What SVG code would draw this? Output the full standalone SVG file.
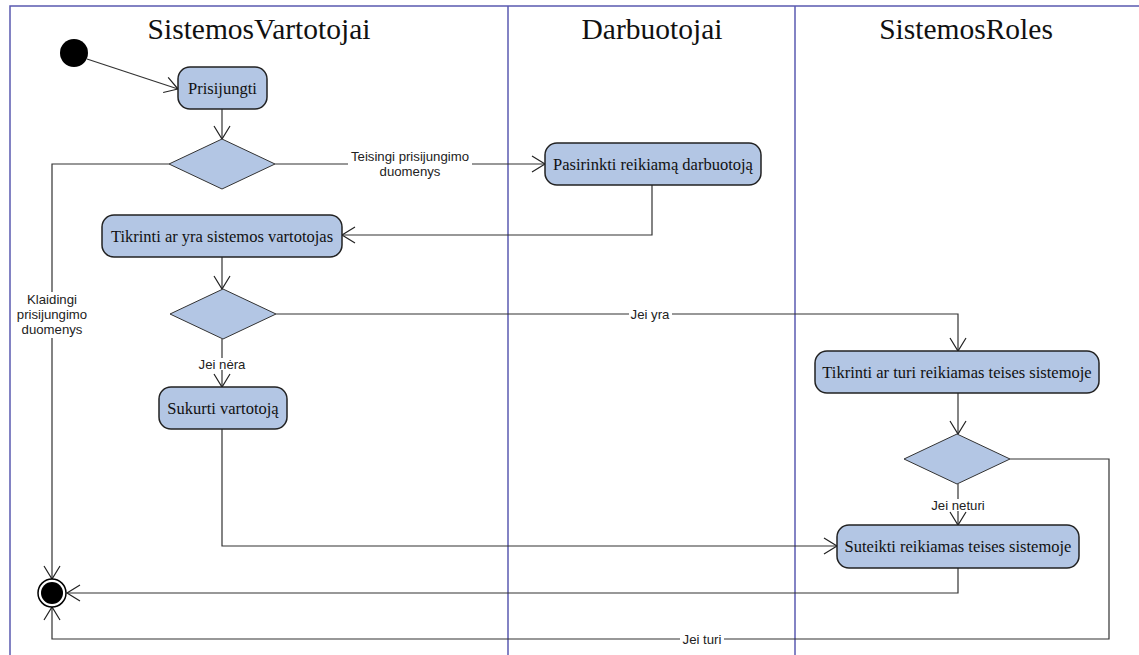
<svg xmlns="http://www.w3.org/2000/svg" width="1139" height="655" viewBox="0 0 1139 655">
  <style>
    .lane { stroke: #5a5ab0; stroke-width: 1.5; fill: none; }
    .title { font-family: "Liberation Serif", "Times New Roman", serif; font-size: 29.5px; fill: #111; text-anchor: middle; }
    .act { fill: #b3c6e4; stroke: #222; stroke-width: 1.5; }
    .dec { fill: #b3c6e4; stroke: #333; stroke-width: 1; }
    .nt { font-family: "Liberation Serif", "Times New Roman", serif; font-size: 16.5px; fill: #111; text-anchor: middle; }
    .edge { stroke: #333; stroke-width: 1.2; fill: none; marker-end: url(#open); }
    .lbl { font-family: "Liberation Sans", Arial, sans-serif; font-size: 13.2px; fill: #222; text-anchor: middle; }
    .lblbg { fill: #fff; }
  </style>
  <defs>
    <marker id="open" markerUnits="userSpaceOnUse" markerWidth="16" markerHeight="18" viewBox="-14 -9 16 18" refX="0" refY="0" orient="auto">
      <path d="M-13,-8 L0,0 L-13,8" fill="none" stroke="#222" stroke-width="1.2"/>
    </marker>
  </defs>

  <rect width="1139" height="655" fill="#fff"/>

  <!-- swimlanes -->
  <g id="lanes">
    <path class="lane" d="M10,655 V6 H1139"/>
    <line class="lane" x1="508" y1="6" x2="508" y2="655"/>
    <line class="lane" x1="795" y1="6" x2="795" y2="655"/>
    <text class="title" x="259" y="39">SistemosVartotojai</text>
    <text class="title" x="652" y="39">Darbuotojai</text>
    <text class="title" x="966" y="39">SistemosRoles</text>
  </g>

  <!-- connectors -->
  <g id="connectors">
    <line class="edge" x1="87" y1="59" x2="178" y2="89"/>
    <line class="edge" x1="222" y1="109" x2="222" y2="139"/>
    <path class="edge" d="M169,164 H52 V579"/>
    <path class="edge" d="M275,164 H545"/>
    <path class="edge" d="M652,185 V235 H342"/>
    <line class="edge" x1="222" y1="257" x2="222" y2="289"/>
    <path class="edge" d="M276,314 H958 V351"/>
    <line class="edge" x1="222" y1="339" x2="222" y2="387"/>
    <path class="edge" d="M222,429 V546 H837"/>
    <line class="edge" x1="958" y1="393" x2="958" y2="434"/>
    <line class="edge" x1="958" y1="484" x2="958" y2="525"/>
    <path class="edge" d="M958,568 V593 H67"/>
    <path class="edge" d="M1010,459 H1109 V639 H52 V607"/>

    <rect class="lblbg" x="348" y="149" width="124" height="30"/>
    <text class="lbl" x="410" y="161">Teisingi prisijungimo</text>
    <text class="lbl" x="410" y="176">duomenys</text>

    <rect class="lblbg" x="13" y="292" width="78" height="46"/>
    <text class="lbl" x="52" y="304">Klaidingi</text>
    <text class="lbl" x="52" y="319">prisijungimo</text>
    <text class="lbl" x="52" y="334">duomenys</text>

    <rect class="lblbg" x="629" y="308" width="43" height="12"/>
    <text class="lbl" x="650" y="319">Jei yra</text>

    <rect class="lblbg" x="196" y="358" width="52" height="12"/>
    <text class="lbl" x="222" y="369">Jei nėra</text>

    <rect class="lblbg" x="925" y="499" width="66" height="12"/>
    <text class="lbl" x="958" y="510">Jei neturi</text>

    <rect class="lblbg" x="680" y="633" width="44" height="12"/>
    <text class="lbl" x="702" y="644">Jei turi</text>
  </g>

  <!-- nodes -->
  <g id="start">
    <circle cx="74" cy="53" r="14" fill="#000"/>
  </g>

  <g id="prisijungti">
    <rect class="act" x="178" y="67" width="89" height="42" rx="12"/>
    <text class="nt" x="222.5" y="94">Prisijungti</text>
  </g>

  <g id="decision-login">
    <polygon class="dec" points="222,139 275,164 222,189 169,164"/>
  </g>

  <g id="pasirinkti">
    <rect class="act" x="545" y="143" width="216" height="42" rx="12"/>
    <text class="nt" x="653" y="170">Pasirinkti reikiamą darbuotoją</text>
  </g>

  <g id="tikrinti-vartotojas">
    <rect class="act" x="102" y="215" width="240" height="42" rx="12"/>
    <text class="nt" x="222" y="242">Tikrinti ar yra sistemos vartotojas</text>
  </g>

  <g id="decision-user">
    <polygon class="dec" points="223,289 276,314 223,339 170,314"/>
  </g>

  <g id="sukurti">
    <rect class="act" x="159" y="387" width="128" height="42" rx="12"/>
    <text class="nt" x="223" y="414">Sukurti vartotoją</text>
  </g>

  <g id="tikrinti-teises">
    <rect class="act" x="815" y="351" width="284" height="42" rx="12"/>
    <text class="nt" x="957" y="378">Tikrinti ar turi reikiamas teises sistemoje</text>
  </g>

  <g id="decision-rights">
    <polygon class="dec" points="957,434 1010,459 957,484 904,459"/>
  </g>

  <g id="suteikti">
    <rect class="act" x="837" y="525" width="242" height="43" rx="12"/>
    <text class="nt" x="958" y="552">Suteikti reikiamas teises sistemoje</text>
  </g>

  <g id="end">
    <circle cx="52" cy="593" r="14" fill="#fff" stroke="#000" stroke-width="1.5"/>
    <circle cx="52" cy="593" r="11" fill="#000"/>
  </g>
</svg>
